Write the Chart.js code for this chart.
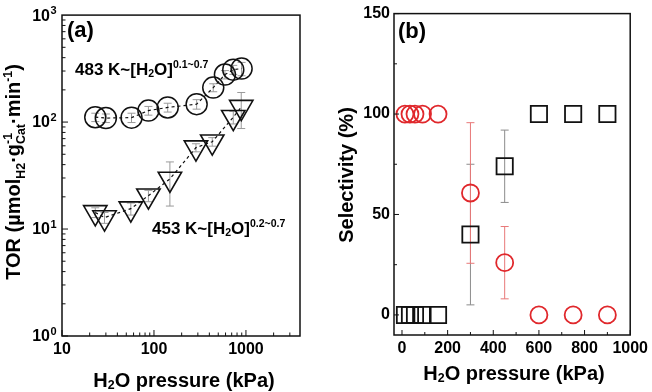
<!DOCTYPE html>
<html>
<head>
<meta charset="utf-8">
<script src="https://cdn.jsdelivr.net/npm/chart.js@4.4.1/dist/chart.umd.min.js"></script>
<style>
  html, body { margin: 0; padding: 0; background: #fff; }
  #wrap { position: relative; width: 652px; height: 392px; }
  canvas { position: absolute; top: 0; }
</style>
</head>
<body>
<div id="wrap">
  <canvas id="chart-a" width="326" height="392" style="left:0"></canvas>
  <canvas id="chart-b" width="326" height="392" style="left:326px"></canvas>
</div>
<script>
// panel (a): TOR vs H2O pressure (log-log)
const pressure483 = [23, 30, 57, 87, 141, 291, 441, 591, 728, 897];
const tor483 = [111, 109, 110, 128, 137, 147, 210, 278, 309, 316];
const tor483Err = [10, 10, 11, 12, 13, 15, 18, 25, 30, 45];

const pressure453 = [23, 29, 56, 87, 149, 286, 430, 728, 889];
const tor453 = [14.3, 12.8, 15.5, 20.5, 29.4, 57.7, 65.5, 111, 138];
const tor453Err = [1.5, 1.5, 2, 2.5, 13, 5, 6, 15, 51];

const xTicksA = [10, 100, 1000];
const yTicksA = [1, 10, 100, 1000];
const yExpA = ["0", "1", "2", "3"];

// panel (b): selectivity vs H2O pressure
const pressureSel = [13, 35, 57, 90, 158, 300, 450, 600, 750, 900];
const selRed = [100, 100, 100, 100, 100, 60.7, 26, 0, 0, 0];
const selRedErr = [0, 0, 0, 0, 0, 35, 18, 0, 0, 0];
const selBlack = [0, 0, 0, 0, 0, 40, 74, 100, 100, 100];
const selBlackErr = [0, 0, 0, 0, 0, 35, 18, 0, 0, 0];

const xTicksB = [0, 200, 400, 600, 800, 1000];
const xMinorB = [100, 300, 500, 700, 900];
const yTicksB = [0, 50, 100, 150];
const yMinorB = [25, 75, 125];

const FONT = '"Liberation Sans", Arial, Helvetica, sans-serif';
const BLACK = "#111";
const RED = "#e0282c";

function toPoints(xs, ys) {
  return xs.map((x, i) => ({ x: x, y: ys[i] }));
}

// text with sub/superscripts; parts: {t, k: 'sub'|'sup', stack}
function drawRich(ctx, parts, x, y, size, align) {
  const small = size * 0.62;
  const items = [];
  let pos = 0;
  let pending = 0;
  for (const p of parts) {
    const s = p.k ? small : size;
    ctx.font = `bold ${s}px ${FONT}`;
    const w = ctx.measureText(p.t).width;
    items.push({ p: p, x: pos, s: s });
    if (p.stack) {
      pending = w;
    } else {
      pos += Math.max(w, pending);
      pending = 0;
    }
  }
  let start = x;
  if (align === "center") start = x - pos / 2;
  if (align === "right") start = x - pos;
  ctx.textAlign = "left";
  ctx.textBaseline = "alphabetic";
  for (const it of items) {
    let dy = 0;
    if (it.p.k === "sub") dy = size * (it.p.low || 0.25);
    if (it.p.k === "sup") dy = -size * 0.42;
    ctx.font = `bold ${it.s}px ${FONT}`;
    ctx.fillText(it.p.t, start + it.x, y + dy);
  }
}

function line(ctx, x1, y1, x2, y2) {
  ctx.moveTo(x1, y1);
  ctx.lineTo(x2, y2);
}

const errorBars = {
  id: "errorBars",
  beforeDatasetsDraw(chart) {
    const { ctx, scales } = chart;
    chart.data.datasets.forEach((ds) => {
      if (!ds.errors) return;
      ctx.save();
      ctx.strokeStyle = ds.errorColor;
      ctx.lineWidth = 1;
      ctx.beginPath();
      ds.data.forEach((pt, i) => {
        const e = ds.errors[i];
        if (!e) return;
        const px = scales.x.getPixelForValue(pt.x);
        const top = scales.y.getPixelForValue(pt.y + e);
        const bot = scales.y.getPixelForValue(pt.y - e);
        line(ctx, px, top, px, bot);
        line(ctx, px - 4, top, px + 4, top);
        line(ctx, px - 4, bot, px + 4, bot);
      });
      ctx.stroke();
      ctx.restore();
    });
  },
};

const panelA = {
  id: "panelA",
  afterDraw(chart) {
    const { ctx, chartArea: a, scales } = chart;
    ctx.save();
    ctx.strokeStyle = BLACK;
    ctx.lineWidth = 1.5;
    ctx.strokeRect(a.left, a.top, a.right - a.left, a.bottom - a.top);

    // inward ticks
    ctx.lineWidth = 1;
    ctx.beginPath();
    for (const d of [10, 100, 1000]) {
      for (let m = 1; m <= 9; m++) {
        const v = m * d;
        if (v > scales.x.max) break;
        const px = scales.x.getPixelForValue(v);
        line(ctx, px, a.bottom, px, a.bottom - (m === 1 ? 6 : 3.5));
      }
    }
    for (const d of [1, 10, 100]) {
      for (let m = 1; m <= 9; m++) {
        const py = scales.y.getPixelForValue(m * d);
        line(ctx, a.left, py, a.left + (m === 1 ? 6 : 3.5), py);
      }
    }
    ctx.stroke();

    // y tick labels 10^n
    ctx.fillStyle = "#000";
    yTicksA.forEach((v, i) => {
      const py = scales.y.getPixelForValue(v);
      ctx.font = `bold 16px ${FONT}`;
      ctx.textAlign = "right";
      ctx.textBaseline = "middle";
      ctx.fillText("10", 50, py + 1);
      ctx.font = `bold 11px ${FONT}`;
      ctx.textAlign = "left";
      ctx.textBaseline = "alphabetic";
      ctx.fillText(yExpA[i], 50.5, py - 1);
    });

    // axis titles
    drawRich(ctx, [{ t: "H" }, { t: "2", k: "sub", low: 0.12 }, { t: "O pressure (kPa)" }],
      184, 387, 20, "center");
    ctx.save();
    ctx.translate(20, 172);
    ctx.rotate(-Math.PI / 2);
    drawRich(ctx, [
      { t: "TOR (\u00b5mol" }, { t: "H2", k: "sub" }, { t: "\u00b7g" },
      { t: "Cat", k: "sub", stack: true }, { t: "-1", k: "sup" },
      { t: "\u00b7min" }, { t: "-1", k: "sup" }, { t: ")" },
    ], 0, 0, 20, "center");
    ctx.restore();

    // annotations
    drawRich(ctx, [{ t: "(a)" }], 67, 37, 22, "left");
    drawRich(ctx, [{ t: "483 K~[H" }, { t: "2", k: "sub", low: 0.12 }, { t: "O]" }, { t: "0.1~0.7", k: "sup" }],
      75, 75, 17, "left");
    drawRich(ctx, [{ t: "453 K~[H" }, { t: "2", k: "sub", low: 0.12 }, { t: "O]" }, { t: "0.2~0.7", k: "sup" }],
      152, 234, 17, "left");
    ctx.restore();
  },
};

const panelB = {
  id: "panelB",
  afterDraw(chart) {
    const { ctx, chartArea: a, scales } = chart;
    ctx.save();
    ctx.strokeStyle = BLACK;
    ctx.lineWidth = 1.5;
    ctx.strokeRect(a.left, a.top, a.right - a.left, a.bottom - a.top);

    ctx.lineWidth = 1;
    ctx.beginPath();
    xTicksB.forEach((v) => {
      const px = scales.x.getPixelForValue(v);
      line(ctx, px, a.bottom, px, a.bottom - 5);
    });
    xMinorB.forEach((v) => {
      const px = scales.x.getPixelForValue(v);
      line(ctx, px, a.bottom, px, a.bottom - 3);
    });
    yTicksB.forEach((v) => {
      const py = scales.y.getPixelForValue(v);
      line(ctx, a.left, py, a.left + 5, py);
    });
    yMinorB.forEach((v) => {
      const py = scales.y.getPixelForValue(v);
      line(ctx, a.left, py, a.left + 3, py);
    });
    ctx.stroke();

    ctx.fillStyle = "#000";
    drawRich(ctx, [{ t: "H" }, { t: "2", k: "sub", low: 0.12 }, { t: "O pressure (kPa)" }],
      188, 380, 20, "center");
    ctx.save();
    ctx.translate(27, 175);
    ctx.rotate(-Math.PI / 2);
    drawRich(ctx, [{ t: "Selectivity (%)" }], 0, 0, 20, "center");
    ctx.restore();

    drawRich(ctx, [{ t: "(b)" }], 72, 38, 22, "left");
    ctx.restore();
  },
};

const tickFont = { family: FONT, size: 16, weight: "bold" };
const hiddenGrid = { display: false, drawTicks: false };

new Chart(document.getElementById("chart-a"), {
  type: "scatter",
  data: {
    datasets: [
      {
        data: toPoints(pressure483, tor483),
        errors: tor483Err,
        errorColor: "#9a9a9a",
        showLine: true,
        borderColor: BLACK,
        borderWidth: 1.2,
        borderDash: [3, 3],
        pointStyle: "circle",
        pointRadius: 10.5,
        pointBorderWidth: 1.5,
        pointBorderColor: BLACK,
        pointBackgroundColor: "rgba(0,0,0,0)",
      },
      {
        data: toPoints(pressure453, tor453),
        errors: tor453Err,
        errorColor: "#9a9a9a",
        showLine: true,
        borderColor: BLACK,
        borderWidth: 1.2,
        borderDash: [3, 3],
        pointStyle: "triangle",
        pointRotation: 180,
        pointRadius: 13.5,
        pointBorderWidth: 1.6,
        pointBorderColor: BLACK,
        pointBackgroundColor: "rgba(0,0,0,0)",
      },
    ],
  },
  options: {
    responsive: false,
    animation: false,
    layout: { padding: { left: 0, right: 26, top: 10, bottom: 0 } },
    plugins: { legend: { display: false }, tooltip: { enabled: false } },
    scales: {
      x: {
        type: "logarithmic",
        min: 10,
        max: 3870,
        afterBuildTicks: (s) => { s.ticks = xTicksA.map((v) => ({ value: v })); },
        afterFit: (s) => { s.height = 56; },
        ticks: { callback: (v) => String(v), font: tickFont, color: "#000", padding: 4, maxRotation: 0, autoSkip: false },
        grid: hiddenGrid,
        border: { display: false },
      },
      y: {
        type: "logarithmic",
        min: 1,
        max: 1000,
        afterBuildTicks: (s) => { s.ticks = yTicksA.map((v) => ({ value: v })); },
        afterFit: (s) => { s.width = 62; },
        ticks: { display: false },
        grid: hiddenGrid,
        border: { display: false },
      },
    },
  },
  plugins: [errorBars, panelA],
});

new Chart(document.getElementById("chart-b"), {
  type: "scatter",
  data: {
    datasets: [
      {
        data: toPoints(pressureSel, selBlack),
        errors: selBlackErr,
        errorColor: "#8c8c8c",
        pointStyle: "rect",
        pointRadius: 11.5,
        pointBorderWidth: 1.8,
        pointBorderColor: BLACK,
        pointBackgroundColor: "rgba(0,0,0,0)",
      },
      {
        data: toPoints(pressureSel, selRed),
        errors: selRedErr,
        errorColor: "#e87878",
        pointStyle: "circle",
        pointRadius: 8.5,
        pointBorderWidth: 1.8,
        pointBorderColor: RED,
        pointBackgroundColor: "rgba(0,0,0,0)",
      },
    ],
  },
  options: {
    responsive: false,
    animation: false,
    layout: { padding: { left: 0, right: 19, top: 12, bottom: 0 } },
    plugins: { legend: { display: false }, tooltip: { enabled: false } },
    scales: {
      x: {
        type: "linear",
        min: -35,
        max: 1000,
        afterBuildTicks: (s) => { s.ticks = xTicksB.map((v) => ({ value: v })); },
        afterFit: (s) => { s.height = 57; },
        ticks: { callback: (v) => String(v), font: tickFont, color: "#000", padding: 4, maxRotation: 0, autoSkip: false },
        grid: hiddenGrid,
        border: { display: false },
      },
      y: {
        type: "linear",
        min: -10,
        max: 150,
        afterBuildTicks: (s) => { s.ticks = yTicksB.map((v) => ({ value: v })); },
        afterFit: (s) => { s.width = 68; },
        ticks: { callback: (v) => String(v), font: tickFont, color: "#000", padding: 4 },
        grid: hiddenGrid,
        border: { display: false },
      },
    },
  },
  plugins: [errorBars, panelB],
});
</script>
</body>
</html>
